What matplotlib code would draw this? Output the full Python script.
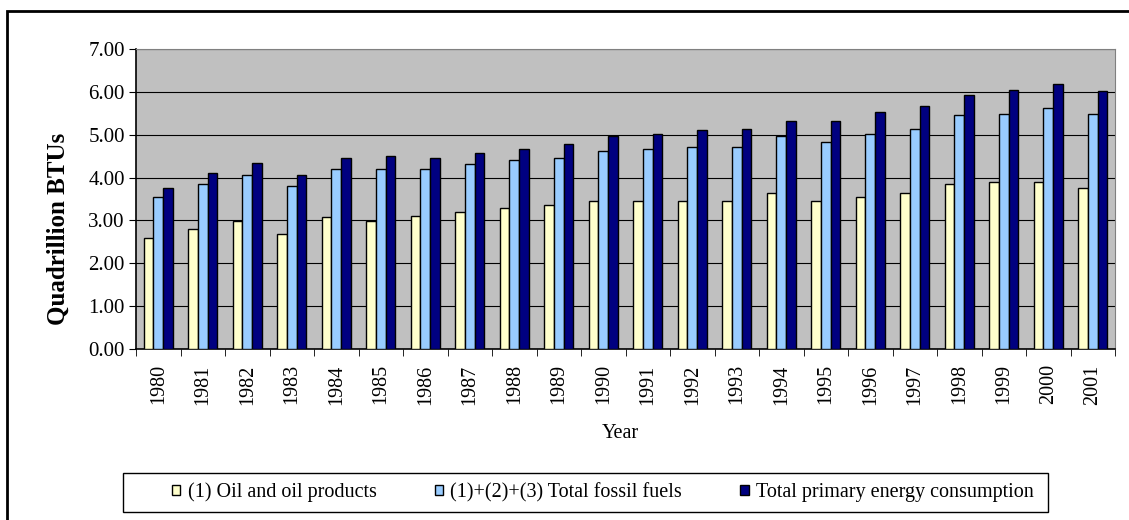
import numpy as np
import matplotlib.pyplot as plt
from matplotlib.patches import Rectangle

plt.rcParams['font.family'] = ['Liberation Serif', 'DejaVu Serif']

years = [str(y) for y in range(1980, 2002)]
oil = [2.60, 2.81, 2.98, 2.68, 3.07, 2.98, 3.11, 3.20, 3.29, 3.37, 3.46,
       3.46, 3.46, 3.46, 3.64, 3.46, 3.54, 3.64, 3.85, 3.89, 3.89, 3.76]
fossil = [3.54, 3.85, 4.07, 3.81, 4.19, 4.19, 4.19, 4.32, 4.41, 4.45, 4.62,
          4.67, 4.71, 4.71, 4.97, 4.84, 5.01, 5.14, 5.45, 5.49, 5.62, 5.49]
total = [3.75, 4.11, 4.33, 4.07, 4.46, 4.50, 4.45, 4.58, 4.67, 4.79, 4.97,
         5.01, 5.10, 5.14, 5.31, 5.31, 5.53, 5.66, 5.92, 6.05, 6.18, 6.01]

labels = ["(1) Oil and oil products", "(1)+(2)+(3) Total fossil fuels",
          "Total primary energy consumption"]
colors = ["#FFFFCC", "#99CCFF", "#000080"]

W, H = 1129, 520
fig = plt.figure(figsize=(W / 100, H / 100), dpi=100)
ax = fig.add_axes([136 / W, 1 - 349 / H, 979 / W, 300 / H])

# outer frame of the chart
fig.patches.append(Rectangle((7 / W, -0.1), 1.2, 1 - 11 / H + 0.1,
                             transform=fig.transFigure, fill=False,
                             edgecolor="black", linewidth=2))

x = np.arange(len(years))
w = 0.22
for i, (vals, c, lab) in enumerate(zip([oil, fossil, total], colors, labels)):
    ax.bar(x + (i - 1) * w, vals, width=w, color=c, edgecolor="black",
           linewidth=1.0, label=lab, zorder=3)

ax.set_facecolor("#C0C0C0")
ax.set_xlim(-0.5, len(years) - 0.5)
ax.set_ylim(0, 7)
ax.set_yticks(np.arange(0, 7.01, 1))
ax.set_yticklabels([f"{v:.2f}" for v in np.arange(0, 7.01, 1)], fontsize=15)
ax.yaxis.grid(True, color="black", linewidth=0.8, zorder=0)
ax.set_axisbelow(True)

ax.set_xticks(x)
ax.set_xticklabels(years, rotation=90, fontsize=14.5)
ax.set_xticks(np.arange(-0.5, len(years), 1), minor=True)
ax.tick_params(axis="x", which="major", length=0, pad=11)
ax.tick_params(axis="x", which="minor", length=5, direction="out", color="black")
ax.tick_params(axis="y", length=5, direction="out", pad=3)

for s in ["top", "right"]:
    ax.spines[s].set_color("#808080")
for s in ["left", "bottom"]:
    ax.spines[s].set_color("black")
    ax.spines[s].set_linewidth(1.2)

ax.set_ylabel("Quadrillion BTUs", fontsize=18, fontweight="bold")
ax.yaxis.set_label_coords(-0.068, 0.40)
ax.set_xlabel("Year", fontsize=14.5)
ax.xaxis.set_label_coords(0.495, -0.25)

# legend box drawn separately, entries placed inside it
fig.patches.append(Rectangle((123 / W, 1 - 512 / H), 925 / W, 39 / H,
                             transform=fig.transFigure, facecolor="white",
                             edgecolor="black", linewidth=1.0))
leg = fig.legend(loc="center left", bbox_to_anchor=(172 / W, 1 - 492.5 / H),
                 ncol=3, fontsize=14.5, frameon=False,
                 handlelength=0.42, handleheight=0.42, handletextpad=0.35,
                 columnspacing=2.9, borderpad=0, borderaxespad=0)

fig.savefig("out.png", dpi=100)
